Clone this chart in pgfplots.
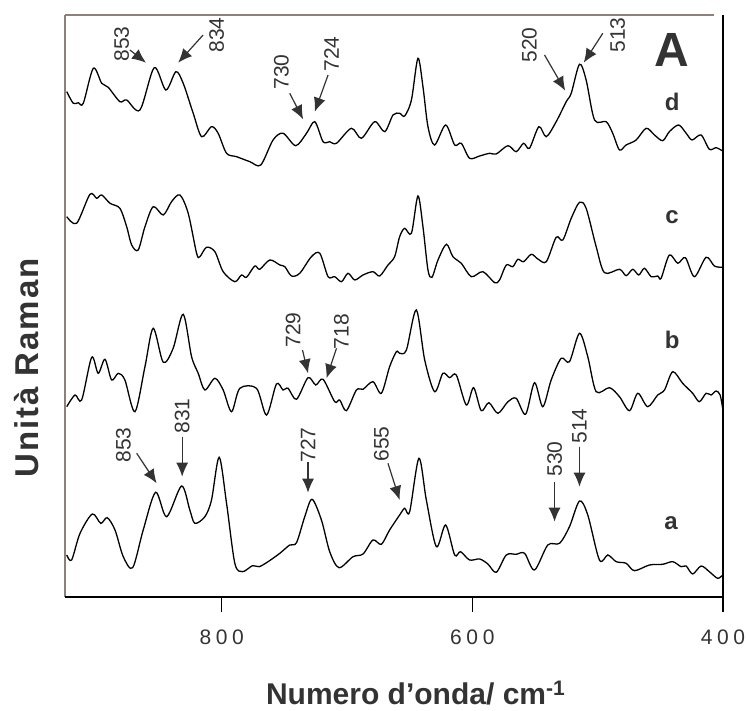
\documentclass[border=0pt]{standalone}
\usepackage{fontspec}
\setmainfont{Liberation Sans}
\usepackage{pgfplots}
\pgfplotsset{compat=1.18}
\usetikzlibrary{arrows.meta}
\definecolor{framegray}{HTML}{8C7F7C}
\definecolor{txt}{HTML}{333333}
\begin{document}
\begin{tikzpicture}[x=1bp,y=1bp]
\useasboundingbox (0,0) rectangle (751,711);
\begin{axis}[
  at={(65bp,114bp)}, anchor=south west,
  scale only axis, width=658bp, height=582bp,
  x dir=reverse, xmin=400, xmax=925, ymin=0, ymax=582,
  axis line style={draw=none},
  xtick={400,600,800}, xticklabels={400,600,800},
  ytick=\empty,
  tick align=outside, tick pos=left,
  major tick length=15bp,
  tick style={black, line width=1.2bp},
  xticklabel style={font=\fontsize{21bp}{24bp}\selectfont\addfontfeatures{LetterSpace=22}, text=txt, yshift=-14bp},
  /pgf/number format/assume math mode=true,
  clip=false,
  trace/.style={black, line width=1.3bp, smooth, tension=0.5, mark=none},
]
% frame
\draw[framegray, line width=2.6bp] (axis cs:925,0) -- (axis cs:925,582);
\draw[framegray, line width=2bp] (axis cs:925,582) -- (axis cs:406.9,582);
\draw[black, line width=1.5bp] (axis cs:400,582) -- (axis cs:400,0);
\draw[black, line width=1.5bp] (axis cs:925,0) -- (axis cs:400,0);

% trace d
\addplot[trace] coordinates {(923.6,505.3)(918.4,493.7)(914.4,494.3)(910.4,493.7)(902.4,528.7)(895.7,513.7)(890.5,509.7)(881.2,495.3)(875.8,497)(865.2,487)(853.8,529.3)(844.5,507)(836.5,525.3)(830.7,513.7)(822.7,483.7)(816,460.3)(808.1,470.3)(802.8,463.7)(796.1,443.7)(788.1,440.3)(777.5,435.3)(768.8,432)(759,457)(751,463.7)(740.9,451.3)(732.3,463.7)(725.7,475.3)(719.1,455.3)(713.8,455.3)(708.4,453.7)(696.5,468.7)(688.5,458.7)(677.9,475.3)(669.9,465.3)(663.3,482)(658,483.7)(654,481)(648.6,497)(643.4,538.7)(639.4,510.3)(635.4,470.3)(630.1,452)(621.3,472)(614.1,452)(608.8,453.7)(602.2,438.7)(594.2,441)(586.2,443.7)(580.9,443)(571.6,451.3)(565,445.3)(559.1,453.7)(554.4,448.7)(546.9,470.3)(541,460.3)(533.1,475.3)(525.1,495.3)(521.1,503.7)(514.5,532.7)(509.2,517)(502.5,477)(493.2,475.3)(488,463.7)(482.6,447)(477.3,452)(469.3,457)(461.3,468.7)(454.7,462)(448.1,456.3)(442.8,465.3)(435.4,472)(429.4,463.7)(424.7,457)(417.5,462)(410.9,447.7)(405.5,449.3)(400.8,446.3)};

% trace c
\addplot[trace] coordinates {(923.6,380.3)(915.7,373.7)(905.1,402.7)(899.7,398.7)(895.7,402)(889.1,393.7)(881.2,388.7)(875.8,370.3)(871.8,352)(866.6,347)(861.2,370.3)(854.6,390.3)(846.6,382)(840,395.3)(833.3,402)(826.7,383.7)(820,343.7)(817.4,340.3)(812.1,349.7)(805.4,345.3)(798.8,325.3)(789.5,315.3)(784.2,322)(780.2,319.7)(773.6,331)(769.6,327.7)(761.6,337)(753.6,332)(749.6,330.3)(744.3,321)(737.7,323.7)(728.4,340.3)(721.7,343.7)(715.1,320.3)(709.8,320.3)(704.4,315.3)(699.2,323.7)(693.8,317)(687.2,322)(679.3,325.3)(673.9,321)(667.3,332)(662,340.3)(658,360.3)(654,368.7)(648.6,363.7)(643.4,401)(639.4,370.3)(635.4,327)(632.2,319.7)(627.4,337)(620.7,352.7)(615.5,340.3)(608.8,333.7)(600.8,320.3)(591.6,325.3)(582.2,314.3)(578.3,317)(572.9,332)(567.7,330.3)(563.7,337.7)(559.1,335.3)(553,342.7)(547.7,338)(541,335.3)(533.1,359.7)(527.8,357)(521.1,378.7)(514.5,394.7)(509.2,388.7)(501.2,350.3)(494.6,324.3)(482.6,327.7)(477.3,321.3)(472,327.7)(467.2,322)(462.7,328.7)(457.3,320.3)(452.1,321)(449.4,318.7)(442.8,342)(436.1,333.7)(430,339.3)(422.8,320.3)(413.5,339.7)(406.9,331)(400.8,329.7)};

% trace b
\addplot[trace] coordinates {(923.6,190.3)(917,202)(911.7,197)(903.7,239.7)(898.5,223.7)(893.1,237.7)(887.8,217)(882.5,223.7)(877.2,217)(869.2,185.3)(861.2,230.3)(854.6,268.7)(846.6,234.7)(838.7,248.7)(830.7,282.7)(824,240.3)(818.7,223.7)(813.4,207)(805.4,218.7)(798.8,207)(792.1,185.3)(785.5,208.7)(772.2,208.7)(764.2,182)(756.3,213)(751,207)(747,208.7)(740.3,197.7)(731.1,219.3)(724.9,212)(719.1,217.7)(709.8,195.3)(705.8,197)(700.5,186.3)(692.5,207)(687.2,207.7)(679.3,215.3)(672.6,203.7)(666,230.3)(660.6,245.3)(658,243.7)(652.6,247)(644.7,287)(638,237)(630.1,205.3)(623.5,223.7)(618.1,219.3)(612.8,222)(604.8,192)(599,209.3)(592.9,186.3)(586.8,194.3)(579.6,183.7)(571.6,195.3)(565,198.7)(557.5,182.7)(550.4,214.3)(543.8,190.3)(537.1,217)(529.1,238.7)(522.5,235.3)(514.5,263.7)(507.9,240.3)(501.2,205.3)(490.6,209.3)(482.6,200.3)(474.6,186.3)(468,203.7)(460.1,190.3)(452.1,202)(446.7,207)(440.1,225.3)(432.2,213.7)(424.2,203.7)(418.9,195.3)(413.5,203.7)(409.5,202)(405.5,206)(402.3,202)(400.3,188.7)};

% trace a
\addplot[trace] coordinates {(923.6,42)(919.7,37)(913,63.7)(903.2,83)(896.5,73.7)(891.3,79.3)(885.1,67)(878.5,40.3)(871,29.3)(862.6,67)(852.7,104.7)(843.9,80.3)(832,111)(825.4,87)(821.4,73.7)(813.4,80.3)(808.1,97)(802,139.7)(796.1,93.7)(789.5,33.7)(783.4,25.3)(775.4,31.3)(770.1,30.3)(763,35.3)(753.6,43.7)(745.7,52)(740.3,54.3)(733.7,80.3)(727.9,97.7)(720.4,77)(713.8,45.3)(706.4,29.3)(695.2,40.3)(687.2,43)(679.3,57)(672.6,52.7)(666,67)(658,82)(654,88.7)(650,85.3)(642.6,138.7)(636.7,97)(628.7,50.3)(621.3,72)(614.1,42)(609.4,45.3)(602.2,37)(594.2,38)(587.6,33)(580.9,24.7)(572.9,42)(565,42.7)(558.3,43.7)(550.4,27)(539.8,52)(530.4,53.7)(522.5,70.3)(514.5,96)(507.9,82)(498.6,37)(491.9,42)(485.2,35.3)(477.3,33.7)(470.7,26.3)(458.7,32)(448.1,32.7)(440.1,35.3)(433.4,30.3)(429.4,31)(424.2,23)(417.5,31)(410.9,25.3)(404.3,18.7)(400.3,22)};

% annotations
\tikzset{ann/.style={txt, line width=1.2bp, -{Latex[length=14bp,width=12bp]}},
         num/.style={txt, rotate=90, anchor=center, font=\fontsize{21bp}{24bp}\selectfont},
         lab/.style={txt, font=\bfseries\fontsize{24bp}{28bp}\selectfont, anchor=center}}
% d
\node[num] at (axis cs:879.8,553) {853};
\draw[ann] (axis cs:873.2,547) -- (axis cs:860.4,534.3);
\node[num] at (axis cs:804.1,562) {834};
\draw[ann] (axis cs:814.8,562) -- (axis cs:834.7,534.3);
\node[num] at (axis cs:752.3,525) {730};
\draw[ann] (axis cs:745.7,503.7) -- (axis cs:735,477.7);
\node[num] at (axis cs:712.4,543) {724};
\draw[ann] (axis cs:715.1,522) -- (axis cs:725.7,485.3);
\node[num] at (axis cs:554.4,552) {520};
\draw[ann] (axis cs:542.4,542) -- (axis cs:525.9,506.3);
\node[num] at (axis cs:484,562) {513};
\draw[ann] (axis cs:495.9,563.7) -- (axis cs:511.1,534.3);
% b
\node[num] at (axis cs:743,267) {729};
\draw[ann] (axis cs:735.5,247) -- (axis cs:731.1,223.7);
\node[num] at (axis cs:704.4,265.3) {718};
\draw[ann] (axis cs:708.4,248.7) -- (axis cs:716.4,218.7);
% a
\node[num] at (axis cs:878.5,152) {853};
\draw[ann] (axis cs:867.8,143.7) -- (axis cs:851.9,113.7);
\node[num] at (axis cs:831.5,181) {831};
\draw[ann] (axis cs:831.5,160.3) -- (axis cs:831.5,120.3);
\node[num] at (axis cs:731.1,152) {727};
\draw[ann] (axis cs:731.1,135.3) -- (axis cs:731.1,104.3);
\node[num] at (axis cs:672.6,153) {655};
\draw[ann] (axis cs:667.3,133.7) -- (axis cs:658,97);
\node[num] at (axis cs:534.4,138) {530};
\draw[ann] (axis cs:534.4,115.3) -- (axis cs:534.4,75.3);
\node[num] at (axis cs:514.5,171) {514};
\draw[ann] (axis cs:514.5,150.3) -- (axis cs:514.5,110.3);
% trace letters
\node[txt, font=\bfseries\fontsize{48bp}{52bp}\selectfont] at (axis cs:440.6,547) {A};
\node[lab] at (axis cs:440.6,495.3) {d};
\node[lab] at (axis cs:440.6,380.3) {c};
\node[lab] at (axis cs:440.6,257) {b};
\node[lab] at (axis cs:441.4,73.7) {a};
% axis labels
\node[txt, rotate=90, font=\bfseries\fontsize{33bp}{36bp}\selectfont\addfontfeatures{LetterSpace=6}] at (axis cs:955.3,229) {Unità Raman};
\node[txt, font=\bfseries\fontsize{30bp}{34bp}\selectfont] at (axis cs:645.2,-96) {Numero d’onda/ cm\textsuperscript{-1}};
\end{axis}
\end{tikzpicture}
\end{document}
